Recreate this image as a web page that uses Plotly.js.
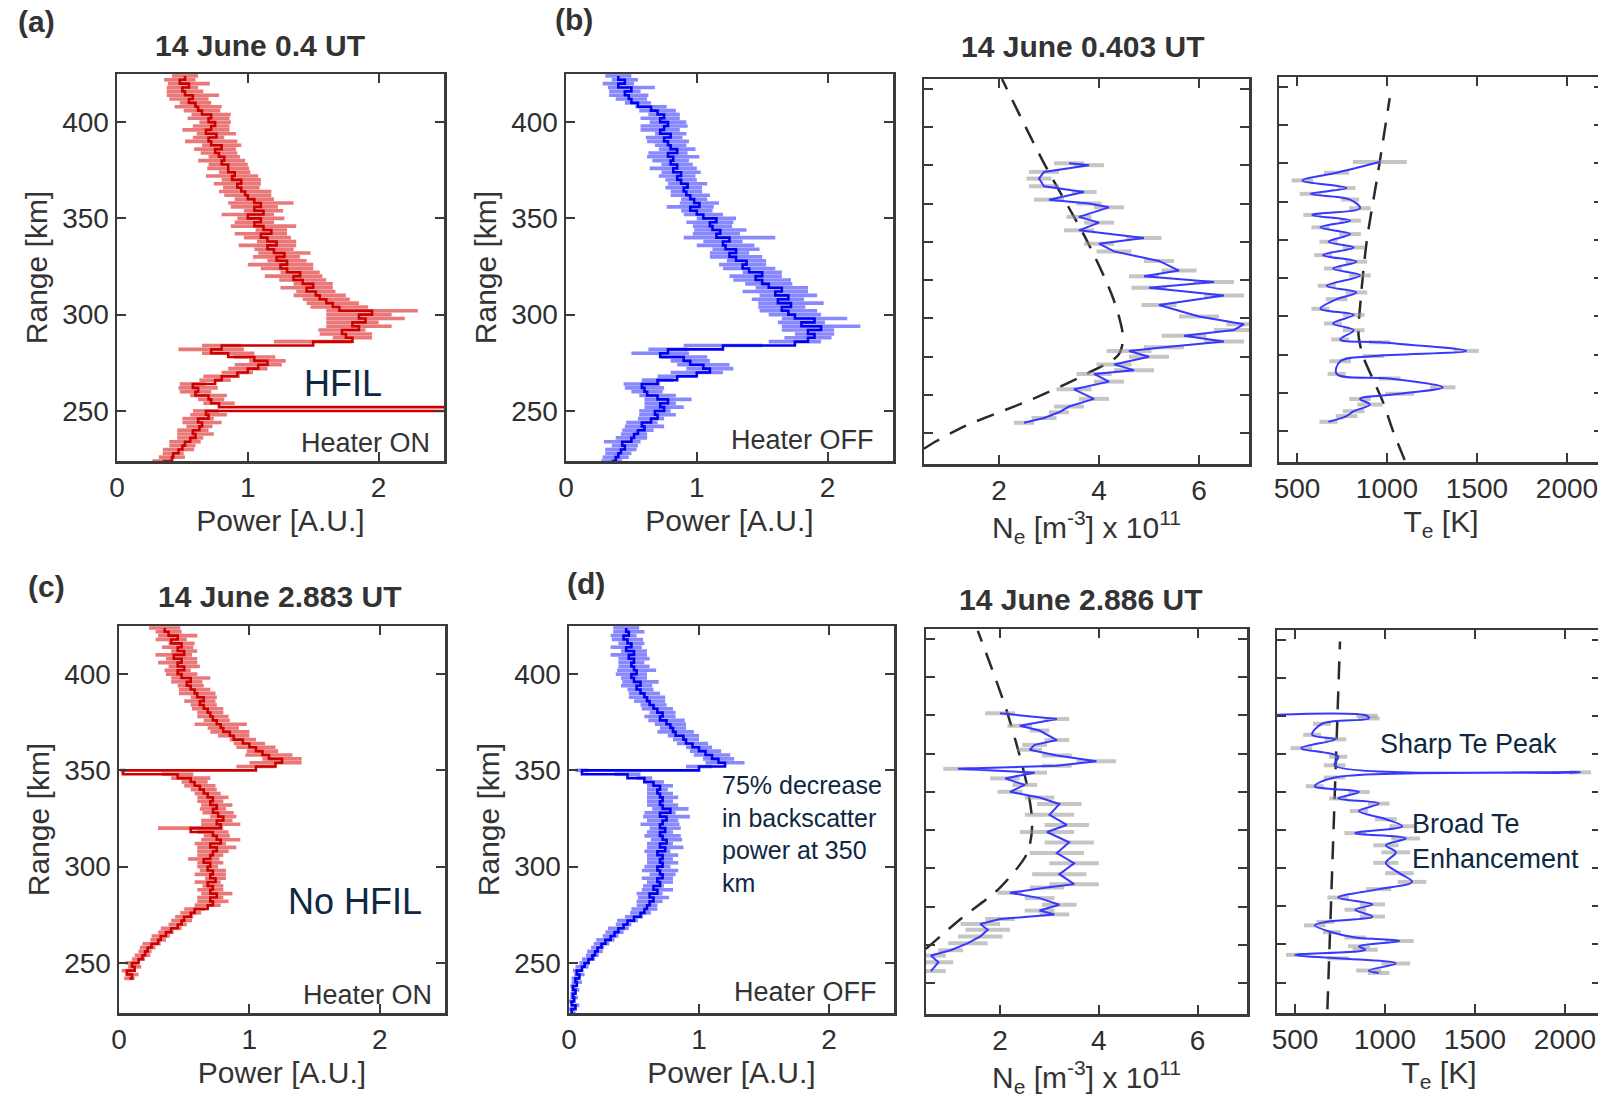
<!DOCTYPE html>
<html><head><meta charset="utf-8">
<script src="https://cdn.plot.ly/plotly-3.0.1.min.js"></script>
<style>html,body{margin:0;padding:0;overflow:hidden;background:#fff}#chart{width:1610px;height:1098px}</style>
</head><body><div id="chart"></div>
<script>
// ---------- DATA ----------
const rngP = [224,226,228,230,232,234,236,238,240,242,244,246,248,250,252,254,256,258,260,262,264,266,268,270,272,274,276,278,280,282,284,286,288,290,292,294,296,298,300,302,304,306,308,310,312,314,316,318,320,322,324,326,328,330,332,334,336,338,340,342,344,346,348,350,352,354,356,358,360,362,364,366,368,370,372,374,376,378,380,382,384,386,388,390,392,394,396,398,400,402,404,406,408,410,412,414,416,418,420,422,424];

const powA = [0.35,0.42,0.43,0.47,0.5,0.52,0.56,0.6,0.58,0.63,
  0.65,0.62,0.7,0.68,2.6,0.78,0.72,0.7,0.6,0.62,
  0.58,0.75,0.8,0.92,1.0,1.08,1.15,1.05,0.85,0.72,
  0.8,1.5,1.8,1.75,1.72,1.85,1.8,1.9,1.85,1.95,
  1.7,1.65,1.6,1.55,1.52,1.45,1.5,1.42,1.35,1.4,
  1.3,1.25,1.3,1.22,1.28,1.2,1.15,1.22,1.15,1.1,
  1.18,1.12,1.05,1.1,1.0,1.12,1.05,1.1,1.05,1.0,
  0.98,0.95,0.92,0.95,0.88,0.9,0.85,0.85,0.8,0.82,
  0.78,0.75,0.8,0.72,0.7,0.76,0.68,0.72,0.75,0.7,
  0.72,0.65,0.62,0.6,0.55,0.58,0.52,0.5,0.55,0.48,
  0.52];
const errA = [0.08,0.1,0.08,0.12,0.1,0.12,0.1,0.14,0.12,0.1,
  0.15,0.12,0.14,0.1,0.05,0.12,0.1,0.14,0.12,0.15,
  0.1,0.12,0.14,0.12,0.15,0.18,0.14,0.16,0.2,0.25,
  0.15,0.3,0.15,0.2,0.18,0.25,0.2,0.3,0.25,0.35,
  0.22,0.2,0.18,0.2,0.15,0.2,0.15,0.18,0.22,0.15,
  0.2,0.25,0.15,0.18,0.2,0.15,0.22,0.15,0.18,0.2,
  0.12,0.25,0.15,0.18,0.2,0.15,0.18,0.25,0.15,0.18,
  0.2,0.14,0.18,0.15,0.2,0.12,0.16,0.15,0.18,0.12,
  0.14,0.16,0.15,0.2,0.12,0.15,0.18,0.14,0.12,0.16,
  0.15,0.14,0.18,0.12,0.15,0.2,0.14,0.12,0.16,0.12,
  0.1];

const powB = [0.35,0.38,0.4,0.42,0.45,0.43,0.5,0.52,0.55,0.6,
  0.58,0.65,0.7,0.68,0.75,0.72,0.78,0.7,0.62,0.6,
  0.58,0.7,0.85,1.0,1.1,1.05,0.95,0.9,0.72,0.78,
  1.2,1.75,1.85,1.9,1.85,1.95,1.8,1.9,1.75,1.7,
  1.65,1.72,1.62,1.7,1.6,1.65,1.55,1.5,1.45,1.5,
  1.4,1.35,1.38,1.3,1.25,1.3,1.22,1.2,1.25,1.15,
  1.18,1.12,1.1,1.15,1.05,1.0,0.95,1.02,0.98,0.95,
  0.92,0.9,0.93,0.88,0.85,0.88,0.82,0.85,0.8,0.82,
  0.78,0.85,0.8,0.78,0.75,0.8,0.72,0.75,0.78,0.72,
  0.75,0.7,0.65,0.55,0.5,0.48,0.45,0.5,0.4,0.45,
  0.4];
const errB = [0.08,0.1,0.1,0.12,0.1,0.14,0.12,0.1,0.12,0.15,
  0.12,0.1,0.14,0.12,0.15,0.12,0.18,0.14,0.12,0.15,
  0.14,0.12,0.15,0.2,0.18,0.2,0.15,0.18,0.22,0.15,
  0.3,0.2,0.18,0.15,0.2,0.3,0.18,0.25,0.2,0.22,
  0.18,0.25,0.2,0.22,0.25,0.2,0.18,0.22,0.2,0.15,
  0.2,0.18,0.15,0.2,0.15,0.18,0.22,0.15,0.35,0.18,
  0.2,0.15,0.18,0.15,0.15,0.12,0.18,0.15,0.1,0.15,
  0.12,0.14,0.15,0.12,0.14,0.15,0.18,0.12,0.14,0.2,
  0.15,0.14,0.12,0.16,0.14,0.12,0.15,0.18,0.14,0.15,
  0.12,0.14,0.12,0.1,0.12,0.15,0.12,0.18,0.12,0.1,
  0.1];

const powC = [null,null,null,null,null,null,null,null,null,0.08,
  0.1,0.06,0.12,0.1,0.15,0.18,0.2,0.22,0.25,0.3,
  0.32,0.36,0.4,0.45,0.48,0.5,0.55,0.58,0.68,0.72,
  0.7,0.75,0.7,0.72,0.68,0.74,0.7,0.72,0.68,0.7,
  0.65,0.7,0.72,0.75,0.7,0.78,0.75,0.72,0.55,0.78,
  0.75,0.8,0.76,0.72,0.75,0.7,0.72,0.68,0.65,0.62,
  0.58,0.55,0.45,0.03,1.05,1.2,1.25,1.15,1.1,1.05,
  1.0,0.95,0.88,0.85,0.8,0.78,0.75,0.72,0.7,0.68,
  0.65,0.62,0.65,0.6,0.58,0.55,0.52,0.55,0.48,0.45,
  0.5,0.45,0.48,0.42,0.5,0.45,0.48,0.4,0.45,0.38,
  0.35];
const errC = [null,null,null,null,null,null,null,null,null,0.04,
  0.05,0.04,0.05,0.05,0.05,0.06,0.05,0.06,0.07,0.06,
  0.07,0.06,0.08,0.07,0.08,0.07,0.08,0.08,0.1,0.12,
  0.1,0.12,0.1,0.08,0.1,0.08,0.12,0.1,0.08,0.1,
  0.12,0.1,0.12,0.15,0.12,0.15,0.1,0.12,0.25,0.15,
  0.12,0.1,0.12,0.1,0.12,0.1,0.12,0.1,0.1,0.12,
  0.1,0.15,0.12,0.02,0.15,0.2,0.15,0.18,0.12,0.15,
  0.12,0.1,0.12,0.15,0.12,0.2,0.1,0.12,0.1,0.12,
  0.1,0.12,0.1,0.14,0.12,0.1,0.12,0.15,0.12,0.1,
  0.12,0.15,0.12,0.14,0.1,0.12,0.1,0.12,0.15,0.1,
  0.12];

const powD = [0.03,0.02,0.05,0.02,0.04,0.03,0.05,0.03,0.06,0.05,
  0.08,0.06,0.1,0.12,0.15,0.18,0.2,0.22,0.25,0.28,
  0.32,0.35,0.38,0.42,0.45,0.5,0.55,0.58,0.6,0.62,
  0.65,0.62,0.68,0.65,0.7,0.68,0.72,0.7,0.68,0.72,
  0.7,0.72,0.68,0.74,0.7,0.75,0.72,0.7,0.74,0.7,
  0.72,0.75,0.7,0.78,0.72,0.7,0.72,0.7,0.68,0.7,
  0.65,0.58,0.45,0.1,1.0,1.2,1.15,1.1,1.05,1.0,
  0.95,0.9,0.88,0.82,0.8,0.78,0.75,0.7,0.72,0.68,
  0.65,0.62,0.6,0.58,0.55,0.52,0.55,0.5,0.48,0.52,
  0.5,0.48,0.5,0.46,0.5,0.44,0.48,0.45,0.42,0.46,
  0.44];
const errD = [0.02,0.02,0.03,0.02,0.03,0.02,0.03,0.02,0.04,0.03,
  0.04,0.03,0.05,0.04,0.05,0.05,0.06,0.05,0.06,0.07,
  0.06,0.07,0.08,0.06,0.08,0.07,0.08,0.1,0.08,0.1,
  0.12,0.1,0.12,0.08,0.1,0.12,0.1,0.14,0.1,0.12,
  0.1,0.12,0.1,0.14,0.1,0.12,0.14,0.1,0.12,0.15,
  0.12,0.18,0.12,0.14,0.12,0.1,0.12,0.1,0.08,0.1,
  0.08,0.06,0.1,0.05,0.1,0.15,0.12,0.14,0.12,0.1,
  0.12,0.1,0.12,0.14,0.1,0.12,0.14,0.12,0.1,0.12,
  0.1,0.12,0.14,0.12,0.1,0.12,0.14,0.1,0.12,0.15,
  0.12,0.1,0.12,0.14,0.1,0.12,0.1,0.12,0.1,0.12,
  0.1];

// Electron density, top (0.403 UT)
const rngNeT = [245.5,248,251,254,258,263,267,271,273,276,280,283,285,288,291,294,297,301,307,312,316,319,322,325,330,335,339,342,346,350,353,358,360,362,366,369,373,376.5,380,381];
const neT    = [2.5,2.9,3.2,3.4,3.9,3.5,4.2,3.9,4.7,4.3,5.0,4.6,5.3,6.5,5.7,6.7,6.9,6.0,5.2,6.5,5.0,6.3,4.9,5.6,5.2,4.3,4.0,4.9,3.6,4.0,3.6,4.2,3.8,3.0,3.7,2.9,2.8,2.9,3.8,3.4];
const neTerr = [0.2,0.25,0.2,0.3,0.3,0.35,0.3,0.35,0.4,0.35,0.4,0.45,0.4,0.4,0.45,0.4,0.35,0.4,0.35,0.4,0.35,0.4,0.3,0.35,0.3,0.35,0.3,0.35,0.3,0.3,0.25,0.3,0.25,0.3,0.25,0.3,0.25,0.3,0.3,0.3];
const rngNeTmodel = [232,236,244,258,271,281,290,310,341,382,425];
const neTmodel    = [0.5,0.75,1.34,2.68,3.75,4.39,4.48,4.29,3.75,2.88,2.06];

// Electron temperature, top
const rngTeT = [245,248,250.5,254,256.9,259.6,263,267.6,270,276.6,279.3,282,286.5,288,292.8,296.3,300.8,304,309,312.5,316,321.4,325,328.6,332,336,339,343,346.5,350,353,356.5,361,364,367,371,375,380.6];
const teT    = [675,775,815,905,850,1070,1310,1015,720,740,925,1440,960,740,815,700,815,630,720,830,665,850,700,830,645,815,675,795,630,795,585,850,795,575,775,530,720,960];
const teTerr = [50,60,60,70,60,80,70,60,50,60,60,70,60,50,60,50,60,50,60,60,50,60,50,60,50,60,50,60,50,60,50,60,50,60,50,60,70,150];
const rngTeTmodel = [225,240,255,267,279,290,310,339,375,414];
const teTmodel    = [1098,1034,979,923,868,842,855,887,950,1015];

// Electron density, bottom (2.886 UT)
const rngNeB = [246.4,251,254.5,257.3,261,264.5,268,271,273.6,276,278,281,284.5,287.3,290,291.8,297,302.7,308,313.6,319,322.7,328,333.6,337,340,343.6,347,350,352,353.6,356,359,362,364.5,367,372,374.5,378,381];
const neB    = [0.6,0.75,0.6,1.0,1.35,1.6,1.75,1.6,2.0,3.1,2.8,3.2,2.8,2.2,2.95,3.5,3.2,3.5,3.15,3.4,2.95,3.35,3.0,3.2,2.8,2.2,2.5,2.1,2.7,1.15,3.15,3.95,3.15,2.6,2.7,3.15,2.8,2.4,3.15,2.0];
const neBerr = [0.3,0.3,0.3,0.25,0.4,0.45,0.45,0.4,0.3,0.3,0.3,0.35,0.3,0.25,0.35,0.5,0.55,0.5,0.55,0.5,0.55,0.45,0.5,0.45,0.3,0.25,0.25,0.3,0.25,0.3,0.3,0.4,0.3,0.25,0.25,0.25,0.2,0.25,0.25,0.3];
const rngNeBmodel = [258,273.6,290,308,322.7,342.7,381,424];
const neBmodel    = [0.5,1.2,2.0,2.55,2.65,2.55,2.15,1.55];

// Electron temperature, bottom
const rngTeB = [245,246.3,250,252.7,254.5,257.2,259,261.8,263.6,266.4,270,271.8,274.6,278.2,281,284.6,289,292.8,297.4,302.8,308.3,312,315.6,318.4,322,325.7,330,333.9,336.6,340,343,347.6,350.3,354,358.5,363,367.6,370,375.8,378.6,380,380.5];
const teB    = [965,910,1060,740,500,890,855,1080,835,705,610,670,930,835,930,740,965,1150,1080,1005,1060,1005,1115,835,1095,1005,855,965,740,855,610,720,2085,720,740,535,725,595,650,910,900,380];
const teBerr = [60,70,80,60,50,70,60,80,60,50,60,50,70,60,70,60,70,80,80,70,80,70,80,60,70,60,50,60,50,60,50,60,60,60,50,60,60,50,50,60,60,0];
const rngTeBmodel = [226,419];
const teBmodel    = [680,750];

// Axis ticks
const powerTicks = [0,1,2];
const rangeTicks = [250,300,350,400];
const rangeMinor = [240,260,280,300,320,340,360,380,400,420];
const neTicks = [2,4,6];
const teTicks = [500,1000,1500,2000];

// ---------- LAYOUT HELPERS ----------
const W = 1610, H = 1098;
const FONT = 'Arial, "Liberation Sans", Helvetica, sans-serif';
const AX = '#3a3a3a';
function xd(a,b){return [a/W, b/W];}
function yd(a,b){return [1-b/H, 1-a/H];}
const yRange = [224, 425];

function baseAxis(extra){
  return Object.assign({
    showline:true, mirror:'ticks', linecolor:AX, linewidth:2.5,
    ticks:'inside', ticklen:9, tickwidth:2, tickcolor:AX,
    showgrid:false, zeroline:false, fixedrange:true,
    tickfont:{family:FONT, size:28, color:'#2f2f2f'}
  }, extra);
}
function xTitle(t){return {text:t, font:{family:FONT, size:30, color:'#333'}, standoff:8};}
function yTitle(t){return {text:t, font:{family:FONT, size:30, color:'#333'}, standoff:6};}

const layout = {
  width: W, height: H, margin:{l:0,r:0,t:0,b:0},
  paper_bgcolor:'#fff', plot_bgcolor:'#fff', showlegend:false,
  font:{family:FONT, color:'#333'},
  // top row
  xaxis:  baseAxis({domain:xd(117,444), anchor:'y',  range:[0,2.5], tickvals:powerTicks, title:xTitle('Power [A.U.]')}),
  yaxis:  baseAxis({domain:yd(74,461),  anchor:'x',  range:yRange, tickvals:rangeTicks, title:yTitle('Range [km]')}),
  xaxis2: baseAxis({domain:xd(566,893), anchor:'y2', range:[0,2.5], tickvals:powerTicks, title:xTitle('Power [A.U.]')}),
  yaxis2: baseAxis({domain:yd(74,461),  anchor:'x2', range:yRange, tickvals:rangeTicks, title:yTitle('Range [km]')}),
  xaxis3: baseAxis({domain:xd(924,1249), anchor:'y3', range:[0.5,7], tickvals:neTicks, title:xTitle('N<sub>e</sub> [m<sup>-3</sup>] x 10<sup>11</sup>')}),
  yaxis3: baseAxis({domain:yd(79,464),  anchor:'x3', range:yRange, tickvals:rangeMinor, showticklabels:false}),
  xaxis4: baseAxis({domain:xd(1279,1603), anchor:'y4', range:[400,2200], tickvals:teTicks, title:xTitle('T<sub>e</sub> [K]')}),
  yaxis4: baseAxis({domain:yd(77,462),  anchor:'x4', range:yRange, tickvals:rangeMinor, showticklabels:false}),
  // bottom row
  xaxis5: baseAxis({domain:xd(119,445), anchor:'y5', range:[0,2.5], tickvals:powerTicks, title:xTitle('Power [A.U.]')}),
  yaxis5: baseAxis({domain:yd(626,1013), anchor:'x5', range:yRange, tickvals:rangeTicks, title:yTitle('Range [km]')}),
  xaxis6: baseAxis({domain:xd(569,894), anchor:'y6', range:[0,2.5], tickvals:powerTicks, title:xTitle('Power [A.U.]')}),
  yaxis6: baseAxis({domain:yd(626,1013), anchor:'x6', range:yRange, tickvals:rangeTicks, title:yTitle('Range [km]')}),
  xaxis7: baseAxis({domain:xd(926,1247), anchor:'y7', range:[0.5,7], tickvals:neTicks, title:xTitle('N<sub>e</sub> [m<sup>-3</sup>] x 10<sup>11</sup>')}),
  yaxis7: baseAxis({domain:yd(629,1014), anchor:'x7', range:yRange, tickvals:rangeMinor, showticklabels:false}),
  xaxis8: baseAxis({domain:xd(1277,1601), anchor:'y8', range:[400,2200], tickvals:teTicks, title:xTitle('T<sub>e</sub> [K]')}),
  yaxis8: baseAxis({domain:yd(630,1013), anchor:'x8', range:yRange, tickvals:rangeMinor, showticklabels:false}),
  annotations: []
};

function ann(text, x, y, opts){
  layout.annotations.push(Object.assign({
    text:text, x:x/W, y:1-y/H, xref:'paper', yref:'paper',
    xanchor:'center', yanchor:'middle', showarrow:false,
    font:{family:FONT, size:28, color:'#333'}
  }, opts||{}));
}
const boldF = {family:FONT, size:30, color:'#333'};
ann('<b>(a)</b>', 36, 22, {font:boldF});
ann('<b>(b)</b>', 574, 20, {font:boldF});
ann('<b>(c)</b>', 46, 586, {font:boldF});
ann('<b>(d)</b>', 586, 583, {font:boldF});
ann('<b>14 June 0.4 UT</b>', 260, 45, {font:boldF});
ann('<b>14 June 0.403 UT</b>', 1082, 47, {font:boldF});
ann('<b>14 June 2.883 UT</b>', 279, 596, {font:boldF});
ann('<b>14 June 2.886 UT</b>', 1080, 599, {font:boldF});
const navy = {family:FONT, size:36, color:'#0e2841'};
const navyS = {family:FONT, size:27, color:'#0e2841'};
ann('HFIL', 343, 383, {font:navy});
ann('No HFIL', 355, 901, {font:navy});
ann('Heater ON', 365, 443, {font:{family:FONT, size:27, color:'#333'}});
ann('Heater OFF', 802, 440, {font:{family:FONT, size:27, color:'#333'}});
ann('Heater ON', 367, 995, {font:{family:FONT, size:27, color:'#333'}});
ann('Heater OFF', 805, 992, {font:{family:FONT, size:27, color:'#333'}});
ann('75% decrease<br>in backscatter<br>power at 350<br>km', 720, 834, {font:{family:FONT, size:25, color:'#0e2841'}, xanchor:'left', align:'left'});
ann('Sharp Te Peak', 1378, 744, {font:navyS, xanchor:'left'});
ann('Broad Te<br>Enhancement', 1410, 841, {font:navyS, xanchor:'left', align:'left'});

// ---------- TRACES ----------
const traces = [];
function profile(xa, ya, vals, rng, errs, lineColor, errColor, lw, shape, thick){
  traces.push({type:'scatter', mode:'markers', x:vals, y:rng, xaxis:xa, yaxis:ya,
    marker:{size:1, color:'rgba(0,0,0,0)'},
    error_x:{type:'data', array:errs, color:errColor, thickness:thick, width:0},
    hoverinfo:'skip'});
  traces.push({type:'scatter', mode:'lines', x:vals, y:rng, xaxis:xa, yaxis:ya,
    line:{color:lineColor, width:lw, shape:shape}, connectgaps:false});
}
function model(xa, ya, vals, rng){
  traces.push({type:'scatter', mode:'lines', x:vals, y:rng, xaxis:xa, yaxis:ya,
    line:{color:'#2a2a2a', width:2.5, dash:'18px,12px', shape:'spline', smoothing:0.8}});
}
const RED='rgb(205,0,0)', REDL='rgba(222,30,30,0.6)';
const BLUE='rgb(0,0,240)', BLUEL='rgba(40,40,255,0.55)';
const BLUE2='rgb(55,55,255)', GREY='rgba(150,150,150,0.55)';

profile('x','y', powA, rngP, errA, RED, REDL, 2.6, 'hv', 3.6);
profile('x2','y2', powB, rngP, errB, BLUE, BLUEL, 2.6, 'hv', 3.6);
model('x3','y3', neTmodel, rngNeTmodel);
profile('x3','y3', neT, rngNeT, neTerr, BLUE2, GREY, 2, 'linear', 4);
model('x4','y4', teTmodel, rngTeTmodel);
profile('x4','y4', teT, rngTeT, teTerr, BLUE2, GREY, 2, 'spline', 4);

profile('x5','y5', powC, rngP, errC, RED, REDL, 2.6, 'hv', 3.6);
profile('x6','y6', powD, rngP, errD, BLUE, BLUEL, 2.6, 'hv', 3.6);
model('x7','y7', neBmodel, rngNeBmodel);
profile('x7','y7', neB, rngNeB, neBerr, BLUE2, GREY, 2, 'linear', 4);
model('x8','y8', teBmodel, rngTeBmodel);
profile('x8','y8', teB, rngTeB, teBerr, BLUE2, GREY, 2, 'spline', 4);

Plotly.newPlot('chart', traces, layout, {staticPlot:true, displayModeBar:false});
</script>
</body></html>
